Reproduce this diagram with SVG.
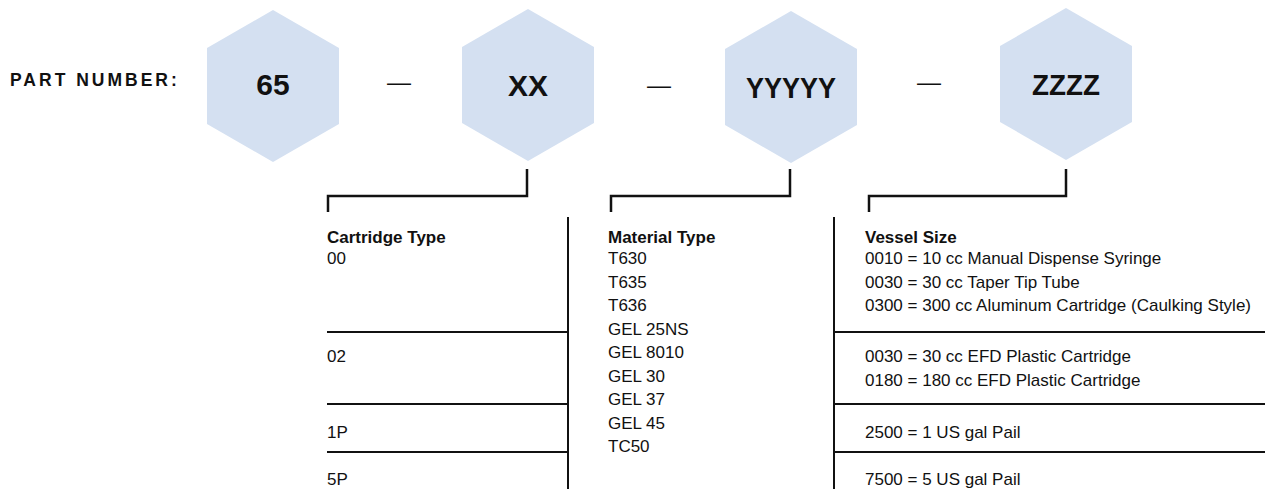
<svg xmlns="http://www.w3.org/2000/svg" width="1265" height="489" viewBox="0 0 1265 489">
<style>
.hex{fill:#d4e0f1;}
.code{font-family:"Liberation Sans",Arial,sans-serif;font-weight:bold;font-size:30px;fill:#111;text-anchor:middle;}
.dash{font-family:"Liberation Sans",Arial,sans-serif;font-size:24px;fill:#111;text-anchor:middle;}
.lbl{font-family:"Liberation Sans",Arial,sans-serif;font-weight:bold;font-size:17.5px;letter-spacing:3px;fill:#111;}
.hd{font-family:"Liberation Sans",Arial,sans-serif;font-weight:bold;font-size:17px;fill:#111;}
.tx{font-family:"Liberation Sans",Arial,sans-serif;font-size:17px;fill:#111;}
.ln{fill:none;stroke:#111;stroke-width:2;}
.br{fill:none;stroke:#111;stroke-width:2.5;}
</style>
<text class="lbl" x="10" y="86">PART NUMBER:</text>
<g id="node-65">
<polygon class="hex" points="273,10 339,48 339,124 273,162 207,124 207,48"/>
<text class="code" x="273" y="95">65</text>
</g>
<text class="dash" x="399" y="90">—</text>
<g id="node-xx">
<polygon class="hex" points="528,9 594,47 594,123 528,161 462,123 462,47"/>
<text class="code" x="528" y="96">XX</text>
</g>
<text class="dash" x="659" y="93">—</text>
<g id="node-yyyyy">
<polygon class="hex" points="791,11 857,49 857,125 791,163 725,125 725,49"/>
<text class="code" x="791" y="98" textLength="90" lengthAdjust="spacingAndGlyphs">YYYYY</text>
</g>
<text class="dash" x="929" y="90">—</text>
<g id="node-zzzz">
<polygon class="hex" points="1066,8 1132,46 1132,122 1066,160 1000,122 1000,46"/>
<text class="code" x="1066" y="95" textLength="68" lengthAdjust="spacingAndGlyphs">ZZZZ</text>
</g>
<g id="connectors">
<path class="br" d="M328,212 V196 H527 V169"/>
<path class="br" d="M611,212 V196 H790 V169"/>
<path class="br" d="M869,212 V196 H1066 V169"/>
</g>
<g id="grid">
<line class="ln" x1="568" y1="217" x2="568" y2="489"/>
<line class="ln" x1="834" y1="217" x2="834" y2="489"/>
<line class="ln" x1="327" y1="332" x2="568" y2="332"/>
<line class="ln" x1="327" y1="404" x2="568" y2="404"/>
<line class="ln" x1="327" y1="452" x2="568" y2="452"/>
<line class="ln" x1="834" y1="332" x2="1265" y2="332"/>
<line class="ln" x1="834" y1="404" x2="1265" y2="404"/>
<line class="ln" x1="834" y1="452" x2="1265" y2="452"/>
</g>
<g id="cartridge-type">
<text class="hd" x="327" y="243">Cartridge Type</text>
<text class="tx" x="327" y="264">00</text>
<text class="tx" x="327" y="362">02</text>
<text class="tx" x="327" y="438">1P</text>
<text class="tx" x="327" y="485">5P</text>
</g>
<g id="material-type">
<text class="hd" x="608" y="243">Material Type</text>
<text class="tx" x="608" y="264">T630</text>
<text class="tx" x="608" y="287.5">T635</text>
<text class="tx" x="608" y="311">T636</text>
<text class="tx" x="608" y="334.5">GEL 25NS</text>
<text class="tx" x="608" y="358">GEL 8010</text>
<text class="tx" x="608" y="381.5">GEL 30</text>
<text class="tx" x="608" y="405">GEL 37</text>
<text class="tx" x="608" y="428.5">GEL 45</text>
<text class="tx" x="608" y="452">TC50</text>
</g>
<g id="vessel-size">
<text class="hd" x="865" y="243">Vessel Size</text>
<text class="tx" x="865" y="264">0010 = 10 cc Manual Dispense Syringe</text>
<text class="tx" x="865" y="287.5">0030 = 30 cc Taper Tip Tube</text>
<text class="tx" x="865" y="311">0300 = 300 cc Aluminum Cartridge (Caulking Style)</text>
<text class="tx" x="865" y="362">0030 = 30 cc EFD Plastic Cartridge</text>
<text class="tx" x="865" y="385.5">0180 = 180 cc EFD Plastic Cartridge</text>
<text class="tx" x="865" y="438">2500 = 1 US gal Pail</text>
<text class="tx" x="865" y="485">7500 = 5 US gal Pail</text>
</g>
</svg>
